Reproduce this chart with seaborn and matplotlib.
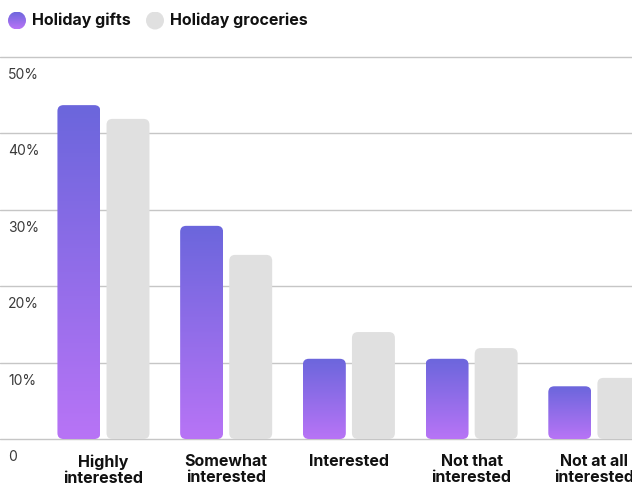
import numpy as np
import pandas as pd
import matplotlib.pyplot as plt
import seaborn as sns
from matplotlib.patches import FancyBboxPatch, Circle
from matplotlib.colors import LinearSegmentedColormap

# Data
categories = ['Highly\ninterested', 'Somewhat\ninterested', 'Interested',
              'Not that\ninterested', 'Not at all\ninterested']
gifts = [43.7, 27.9, 10.5, 10.5, 6.9]
groceries = [41.9, 24.1, 14.0, 11.9, 8.0]
series = ['Holiday gifts', 'Holiday groceries']
y_ticks = [0, 10, 20, 30, 40, 50]
y_tick_labels = ['0', '10%', '20%', '30%', '40%', '50%']

df = pd.DataFrame({
    'category': categories * 2,
    'series': [series[0]] * 5 + [series[1]] * 5,
    'value': gifts + groceries,
})

TOP = '#6B66DC'
BOTTOM = '#B874F6'
GRAY = '#E0E0E0'
grad = LinearSegmentedColormap.from_list('grad', [BOTTOM, TOP])

sns.set_theme(style='white')
plt.rcParams['font.family'] = ['Inter', 'DejaVu Sans']

W, H, DPI = 632, 487, 100
fig = plt.figure(figsize=(W / DPI, H / DPI), dpi=DPI)
ymax = 50.5
ax_h = ymax * 7.64 / H
ax = fig.add_axes([0, 48 / H, 1, ax_h])

sns.barplot(data=df, x='category', y='value', hue='series', order=categories,
            hue_order=series, palette=[TOP, GRAY], width=0.8, gap=0.125,
            legend=False, ax=ax)

xmin, xmax = -0.843, 4.307
ax.set_xlim(xmin, xmax)
ax.set_ylim(0, ymax)

px_x = W / (xmax - xmin)
px_y = ax_h * H / ymax
r = 6 / px_x
aspect = px_x / px_y

for i, container in enumerate(ax.containers):
    for bar in container:
        x0, w, h = bar.get_x(), bar.get_width(), bar.get_height()
        bar.set_visible(False)
        box = FancyBboxPatch((x0, 0), w, h,
                             boxstyle=f'round,pad=0,rounding_size={r}',
                             mutation_aspect=aspect, linewidth=0,
                             facecolor=GRAY if i == 1 else 'none', zorder=2)
        ax.add_patch(box)
        if i == 0:
            im = ax.imshow(np.linspace(0, 1, 256).reshape(-1, 1), cmap=grad,
                           extent=[x0, x0 + w, 0, h], origin='lower',
                           aspect='auto', zorder=2)
            im.set_clip_path(box)

ax.set_xlim(xmin, xmax)
ax.set_ylim(0, ymax)

for v in y_ticks:
    ax.axhline(v, color='#C6C6C6', linewidth=1, zorder=1, clip_on=False)
for v, lab in zip(y_ticks, y_tick_labels):
    ax.annotate(lab, xy=(0, v), xycoords=ax.get_yaxis_transform(),
                xytext=(8, -18), textcoords='offset pixels',
                ha='left', va='center', fontsize=10, color='#3A3A3A',
                annotation_clip=False)

ax.set_yticks([])
ax.set_xlabel('')
ax.set_ylabel('')
ax.tick_params(axis='x', length=0, pad=11)
ax.set_xticks(range(len(categories)))
ax.set_xticklabels(categories, fontsize=11.5, fontweight='bold',
                   color='#111111', linespacing=1.08, va='top')
sns.despine(ax=ax, left=True, bottom=True)

# legend
for j, cx in enumerate([17, 155]):
    lax = fig.add_axes([(cx - 9) / W, 1 - 29.5 / H, 18 / W, 18 / H])
    lax.set_xlim(0, 1)
    lax.set_ylim(0, 1)
    lax.axis('off')
    circ = Circle((0.5, 0.5), 0.5, transform=lax.transData,
                  facecolor=GRAY if j == 1 else 'none', edgecolor='none')
    lax.add_patch(circ)
    if j == 0:
        lim = lax.imshow(np.linspace(0, 1, 64).reshape(-1, 1), cmap=grad,
                         extent=[0, 1, 0, 1], origin='lower', aspect='auto')
        lim.set_clip_path(circ)

fig.text(32 / W, 1 - 20.5 / H, series[0], ha='left', va='center',
         fontsize=11.5, fontweight='bold', color='#111111')
fig.text(170 / W, 1 - 20.5 / H, series[1], ha='left', va='center',
         fontsize=11.5, fontweight='bold', color='#111111')

fig.savefig('out.png', dpi=DPI)
